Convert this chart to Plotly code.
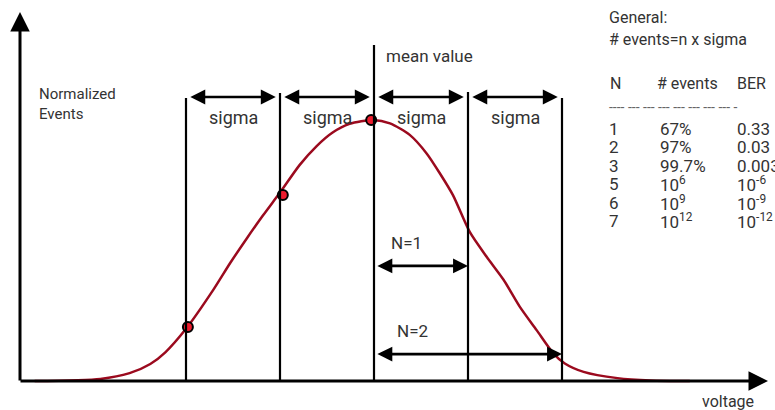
import plotly.graph_objects as go

# curve: x in sigma units (mean = 0), y normalized to the peak
curve_x = [-3.61, -2.91, -2.60, -2.38, -2.22, -2.00, -1.71, -1.53, -1.35, -1.18, -1.00,
           -0.79, -0.61, -0.44, -0.26, -0.01, 0.17, 0.38, 0.56, 0.70, 0.84, 1.02,
           1.20, 1.38, 1.55, 1.73, 1.91, 2.03, 2.23, 2.59, 2.94, 3.36]
curve_y = [0.0, 0.008, 0.030, 0.065, 0.110, 0.200, 0.349, 0.452, 0.548, 0.635, 0.722,
           0.828, 0.900, 0.952, 0.985, 1.0, 0.987, 0.943, 0.872, 0.796, 0.712, 0.570,
           0.475, 0.387, 0.285, 0.195, 0.105, 0.067, 0.035, 0.011, 0.002, 0.0]

# red marked points on the curve
dot_x = [-1.98, -0.97, -0.03]
dot_y = [0.207, 0.713, 1.0]

# sigma grid lines and their top ends
sigma_pos = [-2, -1, 0, 1, 2]
line_tops = [1.084, 1.103, 1.287, 1.107, 1.084]
sigma_label = "sigma"

# N ranges measured from the mean
n_labels = ["N=1", "N=2"]
n_span = [1, 2]
n_level = [0.441, 0.103]

# table on the right
table_n = ["1", "2", "3", "5", "6", "7"]
table_events = ["67%", "97%", "99.7%", "10<sup>6</sup>", "10<sup>9</sup>", "10<sup>12</sup>"]
table_ber = ["0.33", "0.03", "0.003", "10<sup>-6</sup>", "10<sup>-9</sup>", "10<sup>-12</sup>"]

W, H = 775, 410
FONT = "Roboto, Liberation Sans Narrow, sans-serif"
TXT = "#333333"
CURVE = "#9b0a1e"


def px(x):
    return (x - 374) / 94.0


def py(y):
    return (381 - y) / 261.0


fig = go.Figure()

fig.add_trace(go.Scatter(x=curve_x, y=curve_y, mode="lines",
                         line=dict(color=CURVE, width=2.5, shape="spline", smoothing=0.7),
                         hoverinfo="skip"))

# vertical sigma lines
for xv, top in zip(sigma_pos, line_tops):
    fig.add_shape(type="line", x0=xv, x1=xv, y0=0, y1=top,
                  line=dict(color="black", width=2.2))

fig.add_trace(go.Scatter(x=dot_x, y=dot_y, mode="markers",
                         marker=dict(size=10, color="#ee1c2e", line=dict(color="black", width=2)),
                         hoverinfo="skip"))

annotations = []


def arrow(x0, y0, x1, y1, both=True, size=1.2, width=2.6):
    annotations.append(dict(x=x1, y=y1, ax=x0, ay=y0, xref="x", yref="y", axref="x", ayref="y",
                            text="", showarrow=True, arrowhead=2, startarrowhead=2,
                            arrowside="end+start" if both else "end",
                            arrowsize=size, startarrowsize=size, arrowwidth=width,
                            arrowcolor="black", standoff=0, startstandoff=0))


def label(text, x, y, size=17, xanchor="left", color=TXT):
    annotations.append(dict(x=x / W, y=1 - y / H, xref="paper", yref="paper", text=text,
                            showarrow=False, xanchor=xanchor, yanchor="middle", align="left",
                            font=dict(family=FONT, size=size, color=color)))


# axes with arrow heads
arrow(px(20), py(382), px(20), py(12), both=False, size=1.3, width=3)
arrow(px(19), py(381), px(768), py(381), both=False, size=1.3, width=3)

# sigma arrows between neighbouring lines
gap = 0.03
for a, b in zip(sigma_pos[:-1], sigma_pos[1:]):
    arrow(a + gap, py(97), b - gap * 1.5, py(97), size=1.15)
    label(sigma_label, 374 + 94 * (a + b) / 2, 117, size=18, xanchor="center")

# N arrows
for lab, span, lev in zip(n_labels, n_span, n_level):
    arrow(0.02, lev, span, lev, size=1.15)
    label(lab, 389 + 6 * (span - 1), 381 - 261 * lev - 23, size=17)

label("mean value", 384, 56, size=17)
label("Normalized<br>Events", 37, 104, size=15)
label("voltage", 700, 401, size=16)

# table
label("General:", 607, 17, size=16)
label("# events=n x sigma", 607, 40, size=16)
label("N", 608, 84, size=16)
label("# events", 655, 84, size=16)
label("BER", 735, 84, size=16)
label("---- --- --- --- --- --- --- --- -", 607, 107, size=14, color="#666666")
for i, (n, ev, ber) in enumerate(zip(table_n, table_events, table_ber)):
    yy = 129 + 18.4 * i
    label(n, 607, yy, size=17)
    label(ev, 658, yy, size=17)
    label(ber, 735, yy, size=17)

fig.update_layout(
    width=W, height=H, margin=dict(l=0, r=0, t=0, b=0),
    paper_bgcolor="white", plot_bgcolor="white", showlegend=False,
    xaxis=dict(range=[px(0), px(W)], visible=False, fixedrange=True),
    yaxis=dict(range=[py(H), py(0)], visible=False, fixedrange=True),
    annotations=annotations,
)

fig.write_html("out.html", config={"displayModeBar": False},
               post_script="document.body.style.margin = '0px';")
